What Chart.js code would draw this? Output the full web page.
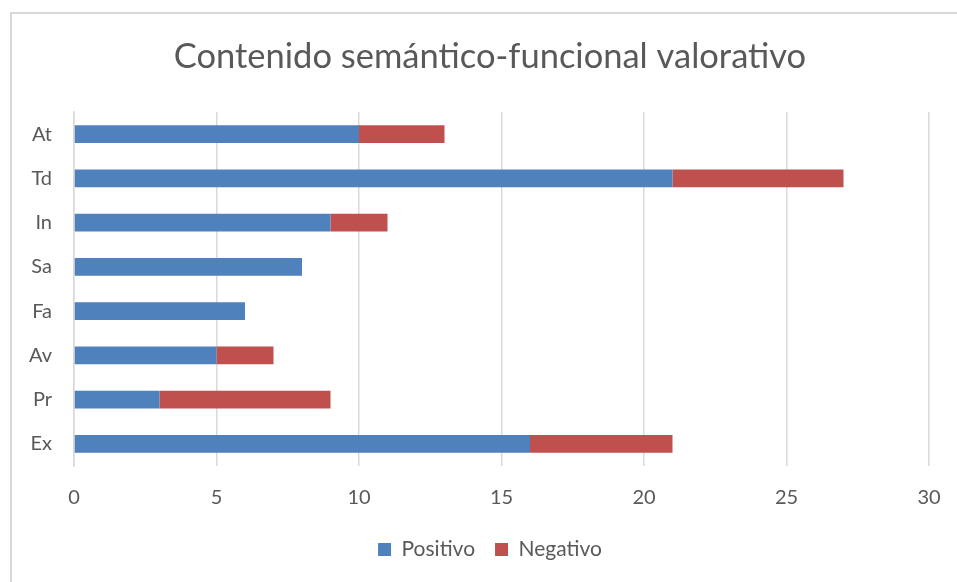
<!DOCTYPE html>
<html><head><meta charset="utf-8">
<script src="https://cdn.jsdelivr.net/npm/chart.js@4"></script>
<style>
html,body{margin:0;padding:0;background:#fff;}
#wrap{position:absolute;left:0;top:0;width:957px;height:582px;}
#frame{position:absolute;left:10px;top:12px;width:960px;height:600px;border-left:2px solid #d9d9d9;border-top:2px solid #d9d9d9;pointer-events:none;}
</style></head>
<body>
<div id="wrap"><canvas id="c" width="957" height="582"></canvas></div>
<div id="frame"></div>
<script>
const categories = ["At","Td","In","Sa","Fa","Av","Pr","Ex"];
const positivo = [10,21,9,8,6,5,3,16];
const negativo = [3,6,2,0,0,2,6,5];
const seriesNames = ["Positivo","Negativo"];
const xTicks = [0,5,10,15,20,25,30];

const FONT = "Lato, 'Open Sans', sans-serif";
const widenLabelArea = {
  id: 'widenLabelArea',
  afterLayout(chart) { chart.scales.y.left = 0; }
};
new Chart(document.getElementById('c'), {
  type: 'bar',
  data: {
    labels: categories,
    datasets: [
      {label: seriesNames[0], data: positivo, backgroundColor: '#4F81BD', barPercentage: 0.4, categoryPercentage: 1},
      {label: seriesNames[1], data: negativo, backgroundColor: '#C0504D', barPercentage: 0.4, categoryPercentage: 1}
    ]
  },
  plugins: [widenLabelArea],
  options: {
    indexAxis: 'y',
    responsive: false,
    animation: false,
    layout: {padding: {left: 51, right: 28, top: 0, bottom: 12}},
    scales: {
      x: {
        stacked: true, min: 0, max: 30,
        afterBuildTicks: s => { s.ticks = xTicks.map(v => ({value: v})); },
        grid: {color: '#d9d9d9', lineWidth: 1.5, drawTicks: false},
        border: {display: false},
        ticks: {color: '#595959', font: {family: FONT, size: 20}, padding: 20},
        afterFit: s => { s.height = 53; s.paddingRight = 0; s.paddingLeft = 0; }
      },
      y: {
        stacked: true,
        grid: {display: false, drawTicks: false},
        border: {color: '#d9d9d9', width: 1.5},
        ticks: {color: '#595959', font: {family: FONT, size: 20}, padding: 22},
        afterFit: s => { s.width = 23; }
      }
    },
    plugins: {
      title: {display: true, text: 'Contenido semántico-funcional valorativo', color: '#595959',
        font: {family: FONT, size: 34.5, weight: 'normal'}, padding: {top: 36, bottom: 34.6}},
      legend: {position: 'bottom', labels: {color: '#595959', font: {family: FONT, size: 21}, boxWidth: 13, boxHeight: 13, padding: 20}},
      tooltip: {enabled: false}
    }
  }
});
</script>
</body></html>
